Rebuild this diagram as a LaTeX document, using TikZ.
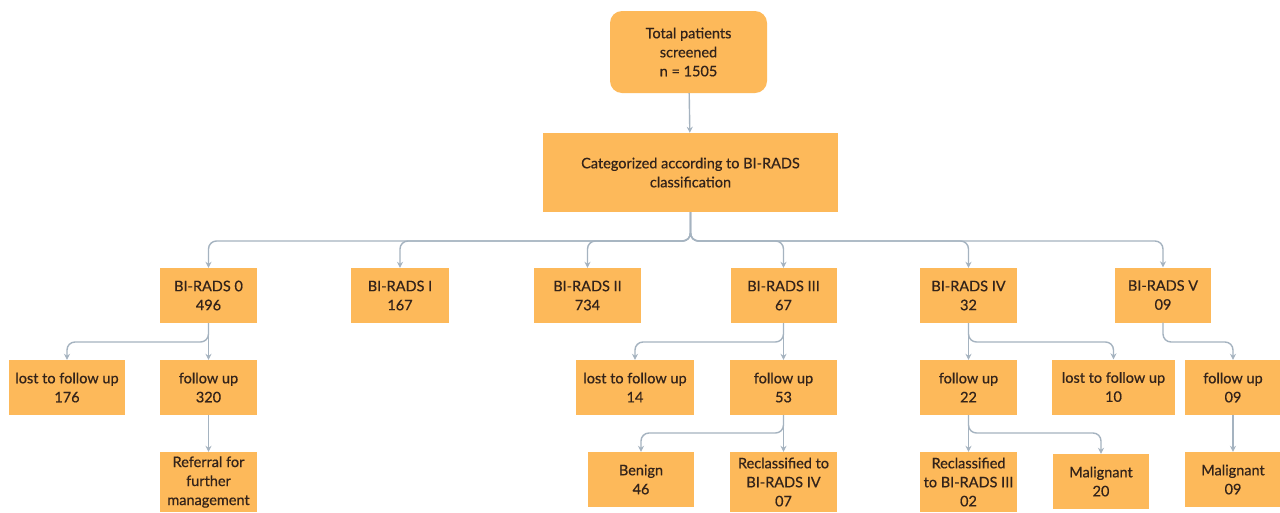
\documentclass[tikz,border=0pt]{standalone}
\usepackage{fontspec}
\setmainfont{Lato}[FakeBold=0.6]
\usetikzlibrary{arrows.meta}
\definecolor{boxc}{HTML}{FDB95A}
\definecolor{txtc}{HTML}{33231A}
\definecolor{linec}{HTML}{A5B3C0}
\tikzset{
  box/.style={rectangle, fill=boxc, text=txtc, align=center, inner sep=2pt,
    font=\fontsize{14.5}{19}\selectfont},
  conn/.style={draw=linec, line width=1.4pt, rounded corners=8pt,
    -{Stealth[length=6pt,width=6pt]}}
}
\begin{document}
\begin{tikzpicture}[x=1pt,y=-1pt]
\useasboundingbox (0,0) rectangle (1280,512);
\clip (0,0) rectangle (1280,512);
\fill[white] (0,0) rectangle (1280,512);
% levels
\coordinate (bus) at (0,241);
\coordinate (j1) at (0,342);
\coordinate (j2) at (0,433);
% nodes
\node[box, rounded corners=12pt, minimum width=157pt, minimum height=82pt] (top) at (688.5,52) {Total patients\\screened\\n = 1505};
\node[box, minimum width=295pt, minimum height=79pt] (cat) at (690.5,172.5) {Categorized according to BI-RADS\\classification};
% row 1
\node[box, minimum width=97pt, minimum height=55pt] (b0) at (208.5,295.5) {BI-RADS 0\\496};
\node[box, minimum width=98pt, minimum height=55pt] (b1) at (400,295.5) {BI-RADS I\\167};
\node[box, minimum width=107pt, minimum height=55pt] (b2) at (587.5,295.5) {BI-RADS II\\734};
\node[box, minimum width=106pt, minimum height=55pt] (b3) at (783.5,295.5) {BI-RADS III\\67};
\node[box, minimum width=97pt, minimum height=55pt] (b4) at (968.5,295.5) {BI-RADS IV\\32};
\node[box, minimum width=96pt, minimum height=55pt] (b5) at (1163,295) {BI-RADS V\\09};
% row 2
\node[box, minimum width=116pt, minimum height=55pt] (l176) at (67,387.5) {lost to follow up\\176};
\node[box, minimum width=97pt, minimum height=55pt] (f320) at (208.5,387.5) {follow up\\320};
\node[box, minimum width=118pt, minimum height=55pt] (l14) at (635,387.5) {lost to follow up\\14};
\node[box, minimum width=107pt, minimum height=55pt] (f53) at (783.5,387.5) {follow up\\53};
\node[box, minimum width=97pt, minimum height=55pt] (f22) at (968.5,387.5) {follow up\\22};
\node[box, minimum width=123pt, minimum height=55pt] (l10) at (1113.5,387) {lost to follow up\\10};
\node[box, minimum width=96pt, minimum height=55pt] (f09) at (1233,387.5) {follow up\\09};
% row 3
\node[box, minimum width=97pt, minimum height=60pt] (ref) at (208.5,482) {Referral for\\further\\management};
\node[box, minimum width=106pt, minimum height=55pt] (ben) at (641,479.5) {Benign\\46};
\node[box, minimum width=107pt, minimum height=60pt] (r4) at (783.5,482) {Reclassified to\\BI-RADS IV\\07};
\node[box, minimum width=97pt, minimum height=60pt] (r3) at (968.5,482) {Reclassified\\to BI-RADS III\\02};
\node[box, minimum width=96pt, minimum height=55pt] (m20) at (1101,481.5) {Malignant\\20};
\node[box, minimum width=96pt, minimum height=55pt] (m09) at (1233,479.5) {Malignant\\09};
% connectors
\draw[conn] (top) -- (cat);
\foreach \t in {b0,b1,b2,b3,b4,b5}{
  \draw[conn] (cat.south) -- (cat.south |- bus) -| (\t.north);
}
\draw[conn] (b0.south) -- (b0.south |- j1) -| (l176.north);
\draw[conn] (b0) -- (f320);
\draw[conn] (f320) -- (ref);
\draw[conn] (b3.south) -- (b3.south |- j1) -| (l14.north);
\draw[conn] (b3) -- (f53);
\draw[conn] (f53.south) -- (f53.south |- j2) -| (ben.north);
\draw[conn] (f53) -- (r4);
\draw[conn] (b4) -- (f22);
\draw[conn] (b4.south) -- (b4.south |- j1) -| (l10.north);
\draw[conn] (f22) -- (r3);
\draw[conn] (f22.south) -- (f22.south |- j2) -| (m20.north);
\draw[conn] (b5.south) -- (b5.south |- j1) -| (f09.north);
\draw[conn] (f09) -- (m09);
\end{tikzpicture}
\end{document}
